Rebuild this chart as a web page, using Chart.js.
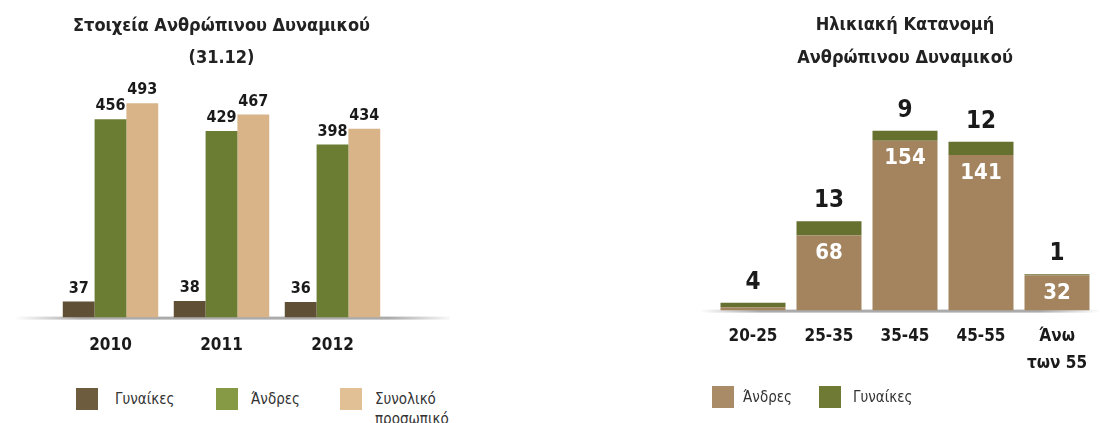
<!DOCTYPE html>
<html lang="el">
<head>
<meta charset="UTF-8">
<title>Ανθρώπινο Δυναμικό</title>
<script src="https://cdn.jsdelivr.net/npm/chart.js"></script>
<style>
    body {
        margin: 0;
        width: 1100px;
        height: 423px;
        background: #ffffff;
        position: relative;
        overflow: hidden;
        font-family: 'Liberation Sans Narrow', 'DejaVu Sans Condensed', sans-serif;
    }
    .box { position: absolute; }
    #left-box { left: 0; top: 0; width: 450px; height: 387px; }
    #right-box { left: 640px; top: 0; width: 460px; height: 395px; }
    .legend { position: absolute; font-size: 15px; color: #333; }
    .legend .item { position: absolute; top: 0; }
    .legend .sw { position: absolute; top: 0; width: 22px; height: 22px; }
    .legend .txt { position: absolute; top: 1px; line-height: 20px; white-space: nowrap; }
</style>
</head>
<body>
<div class="box" id="left-box"><canvas id="left"></canvas></div>
<div class="box" id="right-box"><canvas id="right"></canvas></div>
<div class="legend" id="left-legend" style="left:0;top:388px"></div>
<div class="legend" id="right-legend" style="left:0;top:386px"></div>

<script>
// --- αριστερό γράφημα: στοιχεία ανθρώπινου δυναμικού ---
const years = ['2010', '2011', '2012'];
const women = [37, 38, 36];
const men = [456, 429, 398];
const total = [493, 467, 434];

// --- δεξί γράφημα: ηλικιακή κατανομή ---
const ageGroups = ['20-25', '25-35', '35-45', '45-55', ['Άνω', 'των 55']];
const menByAge = [3, 68, 154, 141, 32];
const womenByAge = [4, 13, 9, 12, 1];

const FONT = "'Liberation Sans Narrow', 'DejaVu Sans Condensed', sans-serif";

function stripes(base, light) {
    // κάθετο ντεγκραντέ σαν τις "ανάγλυφες" μπάρες του πρωτοτύπου
    return function (ctx) {
        const el = ctx.element;
        if (!el || el.width === undefined) return base;
        const c = ctx.chart.ctx;
        const x0 = el.x - el.width / 2;
        const g = c.createLinearGradient(x0, 0, x0 + el.width, 0);
        g.addColorStop(0, base);
        g.addColorStop(0.5, light);
        g.addColorStop(1, base);
        return g;
    };
}

const baseline = {
    id: 'baseline',
    beforeDatasetsDraw(chart, args, opts) {
        const c = chart.ctx;
        const y = chart.chartArea.bottom;
        const g = c.createLinearGradient(opts.x0, 0, opts.x1, 0);
        g.addColorStop(0, 'rgba(150,150,150,0)');
        g.addColorStop(0.15, 'rgba(150,150,150,0.8)');
        g.addColorStop(0.85, 'rgba(150,150,150,0.8)');
        g.addColorStop(1, 'rgba(150,150,150,0)');
        c.save();
        c.fillStyle = g;
        c.fillRect(opts.x0, y - 1, opts.x1 - opts.x0, 3);
        c.restore();
    }
};

const leftLabels = {
    id: 'leftLabels',
    afterDatasetsDraw(chart) {
        const c = chart.ctx;
        c.save();
        c.font = 'bold 16px ' + FONT;
        c.fillStyle = '#1a1a1a';
        c.textAlign = 'center';
        c.textBaseline = 'middle';
        chart.data.datasets.forEach((ds, i) => {
            chart.getDatasetMeta(i).data.forEach((bar, j) => {
                c.fillText(ds.data[j], bar.x, bar.y - 13);
            });
        });
        c.restore();
    }
};

const rightLabels = {
    id: 'rightLabels',
    afterDatasetsDraw(chart) {
        const c = chart.ctx;
        const menMeta = chart.getDatasetMeta(0);
        const womenMeta = chart.getDatasetMeta(1);
        c.save();
        c.textAlign = 'center';
        c.textBaseline = 'middle';
        menMeta.data.forEach((bar, j) => {
            if (menByAge[j] >= 10) {
                c.font = 'bold 22px ' + FONT;
                c.fillStyle = '#ffffff';
                c.fillText(menByAge[j], bar.x, bar.y + 18);
            }
        });
        womenMeta.data.forEach((bar, j) => {
            c.font = 'bold 24px ' + FONT;
            c.fillStyle = '#1a1a1a';
            c.fillText(womenByAge[j], bar.x, bar.y - 20);
        });
        c.restore();
    }
};

new Chart(document.getElementById('left'), {
    type: 'bar',
    data: {
        labels: years,
        datasets: [
            { label: 'Γυναίκες', data: women, backgroundColor: stripes('#5f4f35', '#7a6848') },
            { label: 'Άνδρες', data: men, backgroundColor: stripes('#6b7d32', '#8ea04a') },
            { label: 'Συνολικό προσωπικό', data: total, backgroundColor: stripes('#d8b488', '#f0d3aa') }
        ]
    },
    options: {
        responsive: true,
        maintainAspectRatio: false,
        animation: false,
        layout: { padding: { left: 55, right: 62, top: 0, bottom: 13 } },
        datasets: { bar: { categoryPercentage: 0.86, barPercentage: 1.0 } },
        plugins: {
            legend: { display: false },
            tooltip: { enabled: false },
            title: {
                display: true,
                text: ['Στοιχεία Ανθρώπινου Δυναμικού', '(31.12)'],
                color: '#222',
                font: { family: FONT, size: 18, weight: 'bold', lineHeight: 1.78 },
                padding: { top: 10, bottom: 26 }
            },
            baseline: { x0: 15, x1: 455 }
        },
        scales: {
            x: {
                grid: { display: false, drawTicks: false },
                border: { display: false },
                ticks: { color: '#1a1a1a', padding: 18, font: { family: FONT, size: 17, weight: 'bold' } }
            },
            y: { display: false, min: 0, max: 500 }
        }
    },
    plugins: [baseline, leftLabels]
});

new Chart(document.getElementById('right'), {
    type: 'bar',
    data: {
        labels: ageGroups,
        datasets: [
            { label: 'Άνδρες', data: menByAge, backgroundColor: stripes('#a3845f', '#b99c78') },
            { label: 'Γυναίκες', data: womenByAge, backgroundColor: '#66712f' }
        ]
    },
    options: {
        responsive: true,
        maintainAspectRatio: false,
        animation: false,
        layout: { padding: { left: 75, right: 5, top: 0, bottom: 6 } },
        datasets: { bar: { categoryPercentage: 0.9, barPercentage: 0.95 } },
        plugins: {
            legend: { display: false },
            tooltip: { enabled: false },
            title: {
                display: true,
                text: ['Ηλικιακή Κατανομή', 'Ανθρώπινου Δυναμικού'],
                color: '#222',
                font: { family: FONT, size: 18, weight: 'bold', lineHeight: 1.83 },
                padding: { top: 9, bottom: 15 }
            },
            baseline: { x0: 60, x1: 460 }
        },
        scales: {
            x: {
                stacked: true,
                grid: { display: false, drawTicks: false },
                border: { display: false },
                ticks: { color: '#1a1a1a', padding: 12, font: { family: FONT, size: 17, weight: 'bold', lineHeight: 1.6 } }
            },
            y: { display: false, stacked: true, min: 0, max: 200 }
        }
    },
    plugins: [baseline, rightLabels]
});

// υπομνήματα
function legend(el, items) {
    items.forEach(it => {
        const d = document.createElement('div');
        d.className = 'item';
        d.style.left = it.x + 'px';
        d.innerHTML = '<div class="sw" style="background:' + it.color + '"></div>' +
            '<div class="txt" style="left:' + it.dx + 'px">' + it.text + '</div>';
        el.appendChild(d);
    });
}
legend(document.getElementById('left-legend'), [
    { x: 76, dx: 39, color: '#6e5c3f', text: 'Γυναίκες' },
    { x: 216, dx: 35, color: '#869a45', text: 'Άνδρες' },
    { x: 340, dx: 35, color: '#e2c096', text: 'Συνολικό<br>προσωπικό' }
]);
legend(document.getElementById('right-legend'), [
    { x: 712, dx: 31, color: '#a98b68', text: 'Άνδρες' },
    { x: 819, dx: 34, color: '#6f7a35', text: 'Γυναίκες' }
]);
</script>
</body>
</html>
